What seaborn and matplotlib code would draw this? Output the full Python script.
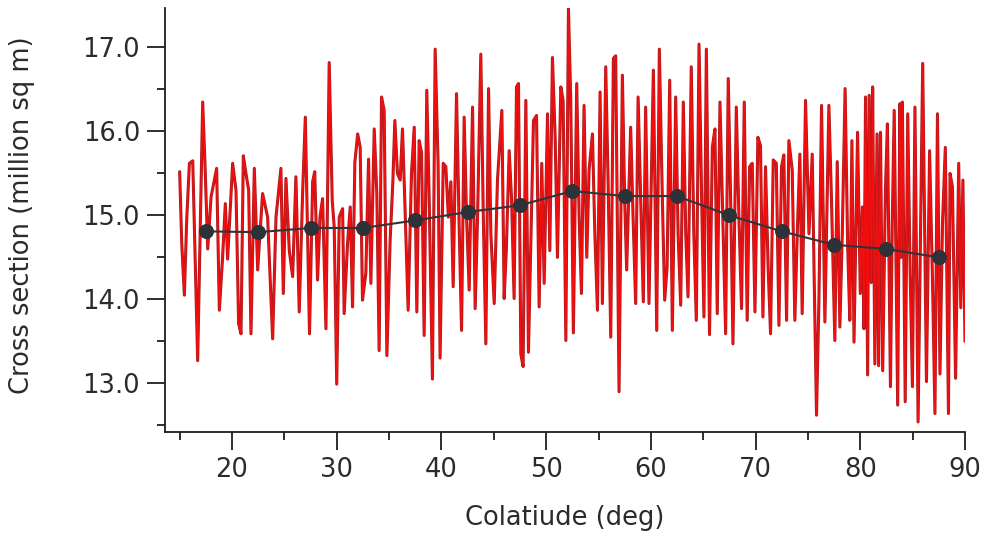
import numpy as np
import pandas as pd
import matplotlib
matplotlib.use("Agg")
import matplotlib.pyplot as plt
import matplotlib.patheffects as pe
import seaborn as sns
from matplotlib.ticker import MultipleLocator, FormatStrFormatter

# ---- data ----
colatitude = [
    15.0, 15.2, 15.45, 15.67, 15.93, 16.25, 16.72, 17.2, 17.45, 17.68,
    18.0, 18.53, 18.79, 19.1, 19.36, 19.58, 20.06, 20.38, 20.63, 20.86,
    21.08, 21.33, 21.59, 21.81, 22.13, 22.45, 22.92, 23.4, 23.88, 24.2,
    24.67, 24.9, 25.15, 25.47, 25.79, 26.1, 26.42, 26.74, 27.0, 27.4,
    27.7, 27.9, 28.17, 28.4, 28.65, 28.97, 29.28, 29.57, 29.76, 30.0,
    30.24, 30.56, 30.71, 31.03, 31.29, 31.51, 31.73, 32.0, 32.24, 32.46,
    32.78, 33.04, 33.26, 33.58, 33.83, 34.05, 34.28, 34.53, 34.79, 35.1,
    35.36, 35.55, 35.8, 36.06, 36.28, 36.5, 36.82, 37.14, 37.4, 37.65,
    37.87, 38.1, 38.35, 38.6, 38.82, 39.14, 39.4, 39.68, 39.87, 40.17,
    40.42, 40.66, 40.9, 41.12, 41.44, 41.7, 41.92, 42.17, 42.4, 42.65,
    42.97, 43.22, 43.45, 43.76, 44.0, 44.24, 44.5, 44.72, 45.04, 45.35,
    45.77, 45.99, 46.2, 46.47, 46.7, 46.94, 47.17, 47.36, 47.58, 47.8,
    48.06, 48.31, 48.55, 48.79, 49.08, 49.33, 49.58, 49.81, 50.13, 50.35,
    50.6, 50.86, 51.08, 51.4, 51.62, 51.88, 52.13, 52.35, 52.6, 52.92,
    53.15, 53.37, 53.62, 53.88, 54.1, 54.42, 54.65, 54.9, 55.15, 55.37,
    55.69, 55.92, 56.17, 56.42, 56.64, 56.96, 57.28, 57.5, 57.69, 58.07,
    58.3, 58.55, 58.78, 59.03, 59.28, 59.5, 59.82, 60.24, 60.56, 60.81,
    61.1, 61.32, 61.55, 61.8, 62.05, 62.37, 62.6, 62.85, 63.1, 63.33,
    63.55, 63.86, 64.1, 64.34, 64.6, 64.85, 65.07, 65.3, 65.6, 65.87,
    66.12, 66.34, 66.6, 66.83, 67.14, 67.39, 67.62, 67.84, 68.16, 68.41,
    68.66, 68.92, 69.2, 69.43, 69.68, 69.94, 70.22, 70.47, 70.7, 70.95,
    71.2, 71.43, 71.69, 71.98, 72.23, 72.48, 72.7, 72.96, 73.18, 73.5,
    73.75, 73.98, 74.23, 74.45, 74.77, 75.1, 75.41, 75.58, 75.82, 76.05,
    76.3, 76.62, 77.0, 77.25, 77.57, 77.8, 78.05, 78.28, 78.55, 78.8,
    79.0, 79.2, 79.4, 79.74, 80.0, 80.2, 80.35, 80.5, 80.7, 80.85,
    81.05, 81.18, 81.39, 81.6, 81.75, 81.93, 82.14, 82.4, 82.59, 82.88,
    83.05, 83.24, 83.57, 83.78, 83.9, 84.02, 84.29, 84.53, 84.75, 84.98,
    85.22, 85.52, 85.96, 86.32, 86.62, 86.9, 87.13, 87.37, 87.61, 87.85,
    88.12, 88.42, 88.57, 88.8, 89.1, 89.4, 89.6, 89.8, 90.0,
]
cross_section = [
    15.52, 14.66, 14.05, 14.94, 15.62, 15.65, 13.27, 16.35, 15.50, 14.60,
    15.22, 15.56, 13.87, 14.50, 15.14, 14.48, 15.62, 15.30, 13.71, 13.59,
    15.71, 15.50, 15.30, 13.59, 15.56, 14.35, 15.26, 14.98, 13.53, 14.98,
    15.56, 14.07, 15.44, 14.58, 14.27, 15.46, 13.85, 15.26, 16.17, 13.59,
    15.40, 15.52, 14.23, 14.98, 15.20, 13.65, 16.82, 15.18, 14.86, 12.99,
    14.98, 15.08, 13.83, 14.66, 15.10, 13.91, 15.63, 15.97, 15.81, 13.99,
    14.31, 15.67, 14.19, 16.03, 15.26, 13.39, 16.41, 16.25, 13.33, 14.70,
    15.40, 16.13, 15.50, 15.42, 16.03, 15.18, 13.87, 15.50, 16.05, 13.85,
    15.89, 15.75, 13.57, 16.49, 15.26, 13.05, 16.98, 15.62, 13.30, 15.62,
    15.58, 14.98, 15.40, 14.15, 16.45, 14.82, 13.63, 16.17, 14.98, 14.11,
    16.29, 13.89, 14.98, 16.92, 14.98, 13.47, 16.51, 14.78, 13.95, 15.42,
    16.25, 14.01, 14.60, 15.77, 15.18, 14.01, 16.53, 16.57, 13.35, 13.20,
    16.37, 13.37, 14.78, 16.13, 16.19, 13.91, 15.62, 14.19, 16.21, 14.58,
    16.88, 15.93, 14.50, 16.53, 16.37, 13.51, 17.46, 16.37, 13.60, 16.57,
    14.98, 14.07, 16.31, 14.50, 15.54, 15.97, 14.78, 13.87, 16.47, 13.95,
    16.77, 15.38, 13.55, 16.87, 16.90, 12.90, 16.67, 15.18, 14.35, 16.05,
    14.98, 13.95, 16.41, 15.18, 13.97, 16.29, 13.95, 16.73, 13.63, 16.98,
    15.18, 13.99, 14.38, 16.61, 13.63, 16.41, 14.78, 13.93, 16.35, 14.78,
    14.03, 16.77, 14.78, 13.75, 17.04, 15.18, 13.79, 16.98, 13.58, 15.81,
    16.03, 13.83, 16.35, 15.18, 13.59, 16.63, 15.18, 13.47, 16.29, 14.98,
    13.89, 16.35, 13.75, 15.58, 15.62, 13.85, 15.93, 15.83, 13.79, 15.58,
    14.38, 13.59, 15.66, 15.62, 13.69, 15.58, 15.72, 13.75, 15.89, 15.54,
    13.75, 14.78, 15.73, 13.83, 16.37, 14.78, 15.73, 14.38, 12.62, 13.99,
    16.31, 13.73, 16.31, 15.18, 13.51, 15.64, 13.67, 14.78, 16.51, 14.60,
    13.75, 15.89, 13.49, 15.99, 14.07, 15.10, 13.65, 16.41, 13.10, 16.43,
    14.20, 16.53, 13.23, 15.97, 13.21, 15.99, 13.15, 15.30, 16.09, 12.96,
    14.90, 16.25, 12.74, 16.33, 14.50, 16.35, 12.78, 16.21, 14.40, 12.96,
    16.29, 12.54, 16.81, 13.02, 15.77, 14.20, 12.64, 16.21, 13.11, 14.90,
    15.81, 12.64, 15.50, 15.34, 13.06, 15.62, 13.90, 15.42, 13.50,
]
bin_centers = [17.5, 22.5, 27.5, 32.5, 37.5, 42.5, 47.5, 52.5,
               57.5, 62.5, 67.5, 72.5, 77.5, 82.5, 87.5]
bin_means = [14.81, 14.80, 14.85, 14.85, 14.94, 15.04, 15.12, 15.29,
             15.23, 15.23, 15.00, 14.81, 14.65, 14.60, 14.50]
x_label = "Colatiude (deg)"
y_label = "Cross section (million sq m)"

# ---- styling ----
sns.set_style("ticks")
plt.rcParams["font.family"] = ["DejaVu Sans"]
text_color = "#2b2b2b"
axis_color = "#1e1e1e"

fig = plt.figure(figsize=(9.9, 5.35), dpi=100)
ax = fig.add_axes([165 / 990, 1 - 432 / 535, (965 - 165) / 990, (432 - 8) / 535])

raw = pd.DataFrame({"colatitude": colatitude, "cross_section": cross_section})
binned = pd.DataFrame({"colatitude": bin_centers, "cross_section": bin_means})

sns.lineplot(data=raw, x="colatitude", y="cross_section", ax=ax,
             sort=False, estimator=None, color="#f20f0f", linewidth=1.2,
             path_effects=[pe.Stroke(linewidth=2.2, foreground="#ac1a1e"), pe.Normal()])
sns.lineplot(data=binned, x="colatitude", y="cross_section", ax=ax,
             sort=False, estimator=None, color="#30343a", linewidth=1.5,
             marker="o", markersize=10, markerfacecolor="#2c3238",
             markeredgecolor="#2c3238")

ax.set_xlim(13.6, 90)
ax.set_ylim(12.42, 17.47)
ax.xaxis.set_major_locator(MultipleLocator(10))
ax.xaxis.set_minor_locator(MultipleLocator(5))
ax.yaxis.set_major_locator(MultipleLocator(1))
ax.yaxis.set_minor_locator(MultipleLocator(0.5))
ax.yaxis.set_major_formatter(FormatStrFormatter("%.1f"))

for s in ["top", "right"]:
    ax.spines[s].set_visible(False)
for s in ["left", "bottom"]:
    ax.spines[s].set_color(axis_color)
    ax.spines[s].set_linewidth(1.3)

ax.tick_params(which="major", direction="out", length=13, width=1.3,
               color=axis_color, labelsize=18.5, labelcolor=text_color, pad=5)
ax.tick_params(which="minor", direction="out", length=6, width=1.3,
               color=axis_color)

ax.set_xlabel(x_label, fontsize=18.5, color=text_color)
ax.set_ylabel(y_label, fontsize=18.5, color=text_color)
ax.xaxis.label.set_va("center")
ax.yaxis.label.set_va("center")
ax.xaxis.set_label_coords(0.5, (432 - 518) / 424)
ax.yaxis.set_label_coords((22 - 165) / 800, (432 - 215) / 424)

fig.savefig("out.png", dpi=100)
